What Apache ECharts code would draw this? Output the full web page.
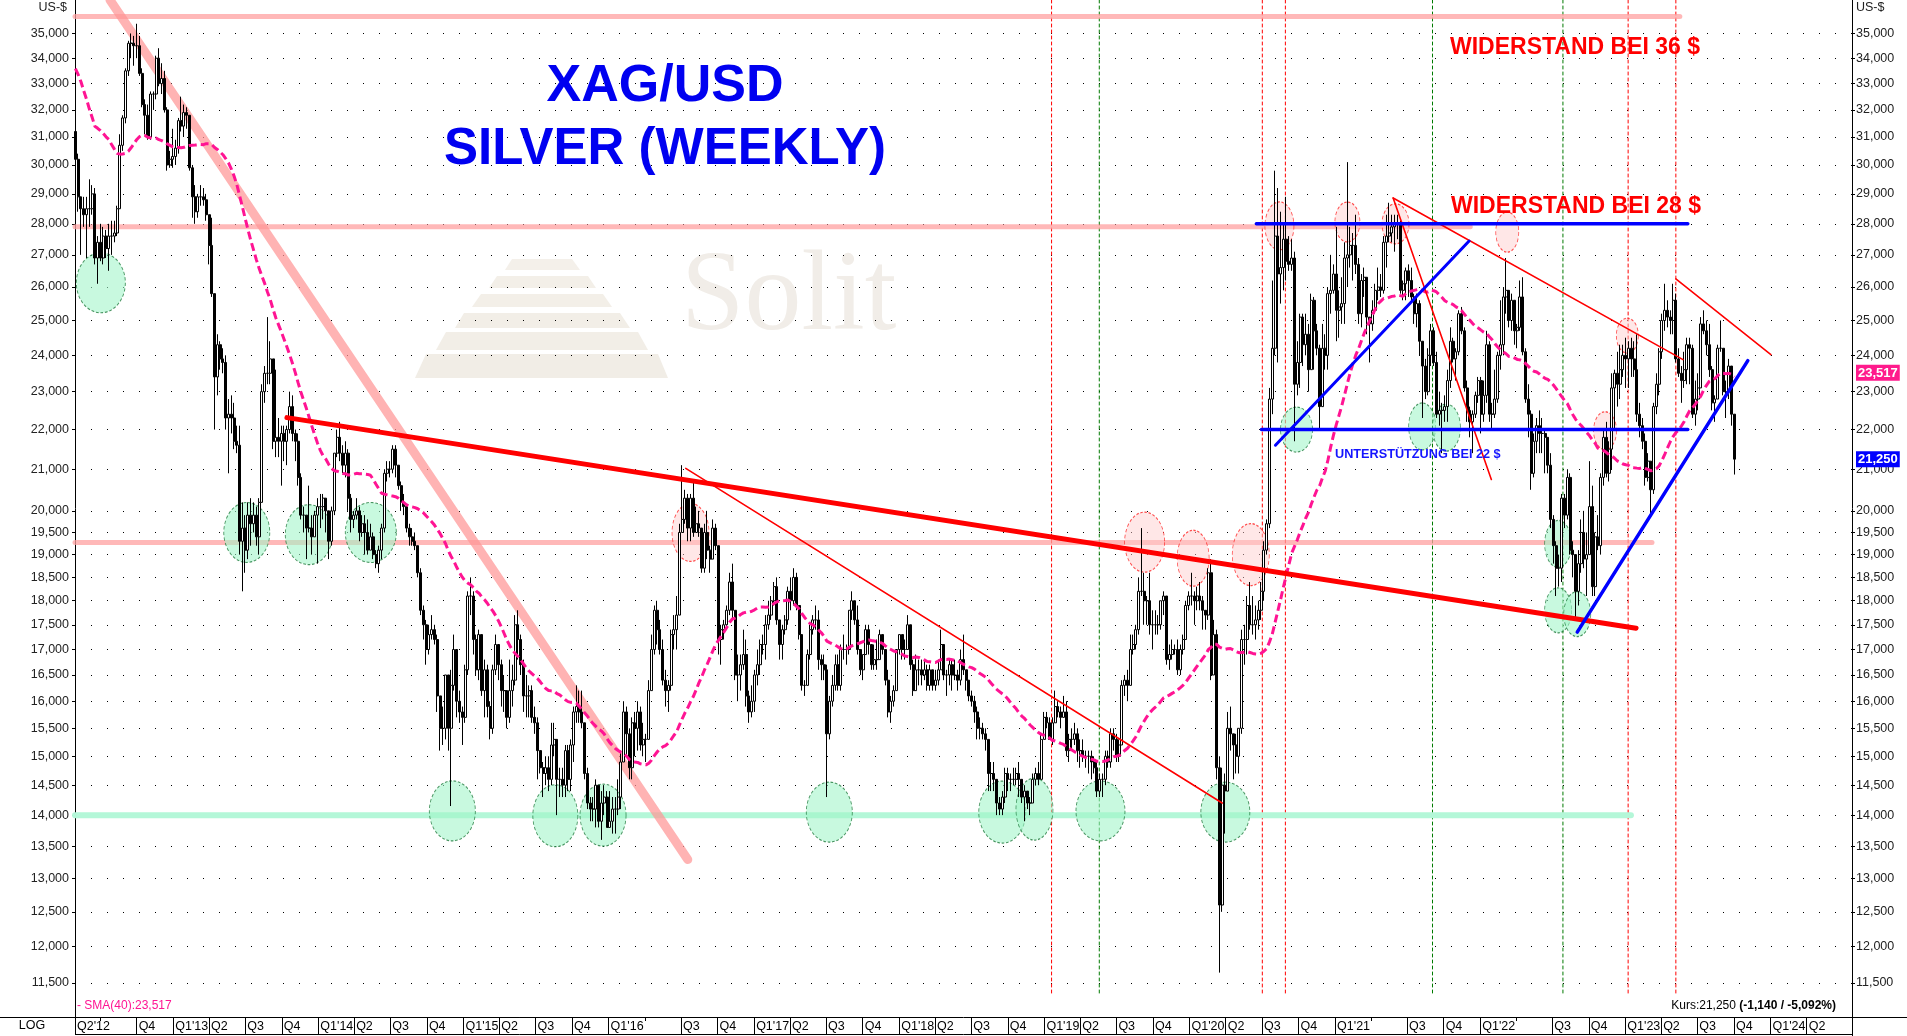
<!DOCTYPE html>
<html><head><meta charset="utf-8">
<script src="https://cdn.jsdelivr.net/npm/echarts@6/dist/echarts.min.js"></script>
<style>html,body{margin:0;padding:0;background:#fff}#c{width:1907px;height:1036px}</style>
</head><body><div id="c"></div>
<script>
// ================= DATA =================
// weekly closes before the visible range (Aug 2011 - Apr 2012), used only to warm up SMA(40)
const preCloses = [38.3,39.6,42.4,41.1,43.1,41.5,40.2,30.5,30.4,31.6,32.1,31.4,35.0,34.3,34.5,31.9,31.4,32.7,31.7,29.5,29.1,28.2,29.1,29.8,32.4,33.5,33.6,33.5,33.3,35.4,34.5,34.1,32.7,32.3,32.5,31.9,31.1,31.8,31.2];

// weekly candles [close, high, low] (US-$), weeks starting on Monday; open = previous close
const w2012 = [[30.2,31.6,30.1],[28.9,30.4,28.4],[28.5,28.9,27.0],[28.3,28.9,27.9],[28.5,28.9,26.9],
 [28.5,29.5,27.9],[29.0,29.3,28.3],[26.9,29.2,26.7],[27.4,27.6,26.1],
 [26.9,28.0,26.8],[27.6,27.9,26.7],[27.2,27.8,26.9],[27.6,28.0,26.5],[27.6,28.1,27.0],
 [27.7,28.1,27.4],[28.5,28.6,27.6],[30.7,31.1,28.5],[31.7,31.8,30.5],
 [33.5,33.6,31.5],[34.6,34.7,33.3],[34.6,35.0,34.0],[34.5,34.9,33.7],
 [34.5,35.4,34.0],[33.4,34.9,33.3],[32.2,33.6,32.1],[31.8,32.4,31.1],[31.0,32.2,30.9],
 [32.6,32.7,30.9],[32.6,32.7,32.0],[34.0,34.1,32.4],[33.0,34.4,32.9],
 [33.2,33.8,32.6],[32.0,33.5,31.9],[30.0,32.1,29.8],[30.2,30.5,29.9],[30.3,31.3,29.9]];
const w2013 = [[30.6,30.9,30.0],[31.6,31.7,30.4],[31.4,32.5,31.2],[31.9,32.2,31.0],
 [31.8,32.1,31.3],[29.9,31.6,29.8],[28.9,30.0,28.2],[28.4,29.3,28.0],
 [28.9,29.0,28.2],[28.9,29.3,28.6],[28.8,29.2,28.6],[28.3,29.0,28.1],
 [27.3,28.2,26.7],[25.8,28.2,25.7],[23.4,25.8,22.0],[24.3,24.6,22.9],[23.9,24.4,23.6],
 [23.8,24.2,23.5],[22.3,24.0,22.0],[22.4,22.8,20.9],[22.3,22.9,21.9],
 [21.7,22.7,21.5],[21.6,22.1,21.4],[19.3,22.1,19.0],[19.6,20.2,18.2],
 [19.1,19.9,18.6],[19.9,20.2,18.9],[19.7,20.3,19.2],[19.9,20.2,19.5],[19.4,20.1,19.2],
 [20.2,20.3,19.0],[23.0,23.2,20.2],[23.5,23.7,22.7],[23.5,25.1,23.2],
 [23.9,24.4,23.2],[21.7,23.9,21.5],[21.8,23.6,21.3],[21.7,22.3,21.3],[21.9,22.1,20.6],
 [21.7,22.1,21.2],[22.0,22.1,21.1],[22.6,23.0,21.9],[21.9,22.9,21.7],
 [21.7,22.0,21.2],[20.8,21.9,20.6],[19.9,20.9,19.8],[19.9,20.1,19.5],
 [19.6,19.9,18.9],[19.6,20.6,19.5],[19.4,19.9,19.0],[19.9,20.0,19.4],[20.1,20.3,18.8]];
const w2014 = [[20.1,20.4,19.6],[20.3,20.4,19.8],[20.0,20.3,19.5],[19.3,20.0,18.9],
 [20.0,20.1,19.2],[21.4,21.4,19.9],[21.8,22.0,21.3],[21.4,22.2,21.2],
 [21.1,21.6,20.9],[21.4,21.7,20.8],[20.3,21.5,20.0],[19.8,20.4,19.5],[19.9,20.0,19.6],
 [20.0,20.3,19.8],[19.5,20.1,19.3],[19.7,19.9,19.4],[19.5,19.9,19.0],
 [19.1,19.8,19.0],[19.4,19.7,19.1],[19.0,19.5,18.9],[18.8,19.1,18.7],
 [19.1,19.2,18.6],[19.6,19.7,18.9],[20.9,21.0,19.5],[21.0,21.2,20.7],[21.0,21.2,20.8],
 [21.5,21.6,20.9],[21.1,21.6,20.8],[20.6,21.0,20.5],[20.2,20.7,20.0],
 [20.1,20.4,19.9],[19.6,20.0,19.5],[19.4,19.7,19.2],[19.3,19.6,19.2],
 [19.2,19.5,19.1],[18.6,19.2,18.5],[17.8,18.7,17.7],[17.5,17.9,17.2],[17.0,17.6,16.7],
 [17.3,17.5,16.9],[17.4,17.7,17.2],[17.2,17.5,17.1],[16.1,17.3,15.8],
 [15.5,16.0,15.1],[15.5,15.9,15.2],[16.5,16.5,15.3],[15.5,16.2,15.1],
 [16.3,16.6,14.15],[17.0,17.3,16.2],[16.0,17.0,15.7],[15.8,16.2,15.6],[15.7,15.9,15.2]];
const w2015 = [[16.6,16.7,15.6],[18.1,18.2,16.5],[18.1,18.5,17.7],[17.2,18.2,16.9],
 [16.6,17.3,16.5],[17.3,17.4,16.4],[16.2,17.3,16.1],[16.6,16.8,15.7],
 [15.9,16.7,15.7],[15.5,16.0,15.3],[16.6,16.7,15.4],[17.1,17.3,16.5],[16.7,17.1,16.4],
 [16.2,16.8,15.9],[16.2,16.5,15.8],[15.7,16.0,15.5],[16.2,16.8,15.6],
 [16.4,16.7,15.9],[17.5,17.7,16.3],[17.2,17.8,16.8],[16.7,17.3,16.5],
 [16.1,16.8,15.8],[16.1,16.5,15.7],[16.2,16.3,15.7],[15.7,16.3,15.6],[15.6,15.9,15.4],
 [15.1,15.7,14.6],[14.8,15.1,14.7],[14.7,14.9,14.3],[14.8,15.0,14.5],
 [14.6,15.0,14.4],[15.2,15.6,14.5],[15.3,15.6,15.0],[14.6,15.3,14.0],[14.6,14.8,14.3],
 [14.5,14.8,14.3],[15.1,15.2,14.3],[14.6,15.2,14.4],[15.2,15.3,14.4],
 [15.8,15.9,14.9],[15.9,16.3,15.6],[15.8,16.2,15.6],[15.6,16.2,15.5],
 [14.7,15.5,14.6],[14.2,14.8,14.1],[14.1,14.3,13.9],[14.1,14.3,13.9],[14.5,14.6,13.8],
 [13.9,14.3,13.8],[14.2,14.4,13.6],[14.3,14.5,14.0],[13.8,14.4,13.8]];
const w2016 = [[13.9,14.4,13.8],[14.1,14.3,13.7],[14.1,14.3,13.7],[14.3,14.6,14.0],
 [14.9,15.1,14.1],[15.8,16.0,15.0],[15.4,15.9,15.0],[14.8,15.5,14.6],[15.6,15.7,14.6],
 [15.5,15.8,15.0],[15.8,16.0,15.1],[15.2,15.9,15.1],[15.3,15.6,15.0],
 [15.3,15.4,14.9],[16.2,16.4,15.3],[17.0,17.3,16.3],[17.8,17.9,16.9],
 [17.4,18.0,17.1],[17.0,17.6,16.9],[16.4,17.2,16.3],[16.2,16.6,15.9],[16.3,16.4,15.8],
 [17.3,17.4,16.2],[17.4,17.7,17.0],[17.7,18.1,17.0],[19.5,19.7,17.7],
 [19.8,21.1,19.5],[20.3,20.5,19.7],[19.6,20.4,19.3],[20.3,20.4,19.3],
 [19.5,20.7,19.4],[19.7,20.1,19.5],[19.6,20.0,19.4],[18.7,19.5,18.6],[19.5,19.7,18.6],
 [19.1,20.0,18.9],[18.9,19.2,18.6],[19.6,19.8,18.9],[19.2,19.7,19.1],
 [17.2,19.2,16.9],[17.4,17.5,16.7],[17.5,17.6,17.2],[17.8,17.9,17.4],[18.4,18.6,17.7],
 [17.8,18.8,17.6],[16.5,17.4,16.4],[16.5,16.9,16.0],[16.7,16.9,16.2],
 [16.9,17.4,16.6],[16.1,17.2,15.9],[15.8,16.2,15.6],[16.0,16.3,15.7]];
const w2017 = [[16.5,16.6,15.8],[16.7,17.0,16.3],[17.1,17.2,16.5],[17.1,17.3,16.9],[17.5,17.7,16.8],
 [17.7,18.0,17.4],[18.0,18.1,17.6],[18.3,18.4,17.9],[17.6,18.5,17.5],
 [17.1,17.6,16.8],[17.4,17.5,16.8],[17.6,17.7,17.3],[18.2,18.3,17.5],
 [18.0,18.5,17.8],[18.5,18.7,17.9],[17.9,18.6,17.8],[17.3,17.9,17.2],
 [16.3,17.3,16.2],[16.3,16.4,16.1],[16.9,17.0,16.3],[17.4,17.5,16.8],[17.6,17.7,17.3],
 [17.6,17.9,17.4],[16.8,17.8,16.6],[16.7,16.9,16.4],[16.6,16.9,16.4],
 [15.4,16.7,14.3],[16.0,16.1,15.3],[16.3,16.5,15.9],[16.7,16.9,16.2],[16.3,16.9,16.2],
 [17.0,17.1,16.2],[17.0,17.3,16.8],[17.0,17.1,16.7],[17.8,17.8,16.9],
 [18.0,18.2,17.6],[17.6,18.0,17.5],[17.0,17.9,16.9],[16.6,17.0,16.5],
 [16.9,16.9,16.4],[17.4,17.5,16.9],[17.1,17.5,16.9],[16.7,17.1,16.6],[16.8,17.1,16.6],
 [16.8,17.2,16.6],[17.3,17.4,16.8],[17.0,17.2,16.9],[16.4,17.0,16.3],
 [15.8,16.6,15.7],[16.0,16.1,15.6],[16.2,16.3,15.9],[17.0,17.0,16.2]];
const w2018 = [[17.3,17.3,16.9],[17.0,17.3,16.8],[17.0,17.2,16.8],[17.5,17.7,17.0],[16.7,17.5,16.6],
 [16.2,16.8,16.1],[16.6,16.9,16.2],[16.6,16.8,16.3],[16.5,16.8,16.3],
 [16.6,16.8,16.4],[16.3,16.7,16.2],[16.6,16.7,16.2],[16.3,16.6,16.2],
 [16.4,16.6,16.2],[16.6,16.8,16.3],[17.1,17.4,16.6],[16.5,17.1,16.4],[16.5,16.6,16.1],
 [16.7,16.8,16.3],[16.5,16.8,16.2],[16.5,16.8,16.4],[16.4,16.6,16.2],
 [16.8,17.0,16.3],[16.6,17.3,16.5],[16.4,16.6,16.2],[16.1,16.4,16.0],
 [16.0,16.2,15.9],[15.8,16.1,15.6],[15.5,15.9,15.3],[15.5,15.7,15.3],[15.4,15.6,15.3],
 [15.3,15.5,15.1],[14.7,15.2,14.4],[14.7,14.9,14.4],[14.6,14.9,14.4],
 [14.2,14.6,14.0],[14.1,14.3,14.0],[14.3,14.4,14.0],[14.7,14.8,14.2],
 [14.6,14.8,14.4],[14.6,14.7,14.4],[14.6,14.8,14.5],[14.7,14.8,14.5],[14.6,14.9,14.3],
 [14.3,14.6,14.2],[14.4,14.5,13.9],[14.2,14.4,14.1],[14.2,14.3,14.0],
 [14.6,14.7,14.2],[14.7,14.8,14.5],[14.6,14.9,14.5],[15.3,15.4,14.6],[15.7,15.8,15.3]];
const w2019 = [[15.6,15.8,15.5],[15.3,15.7,15.3],[15.6,15.7,15.2],[15.9,16.2,15.6],
 [15.8,16.0,15.7],[15.7,15.9,15.5],[15.8,16.1,15.7],[15.1,16.0,15.0],
 [15.3,15.4,14.9],[15.3,15.5,15.1],[15.4,15.6,15.2],[15.1,15.5,14.9],
 [15.1,15.3,14.8],[15.0,15.3,14.9],[15.0,15.1,14.8],[15.0,15.1,14.7],[14.9,15.1,14.6],
 [14.8,15.0,14.7],[14.4,14.9,14.3],[14.6,14.7,14.3],[14.6,14.7,14.3],
 [15.0,15.1,14.5],[14.9,15.1,14.8],[15.4,15.5,14.8],[15.3,15.5,15.1],
 [15.0,15.4,14.9],[15.2,15.3,14.9],[16.3,16.4,15.2],[16.4,16.5,16.1],[16.3,16.6,16.0],
 [17.0,17.3,16.3],[17.1,17.3,16.9],[17.4,17.5,17.0],[18.2,18.5,17.3],
 [18.2,19.6,18.1],[18.0,18.6,17.5],[18.0,18.1,17.5],[17.5,18.6,17.3],[17.5,17.8,17.0],
 [17.5,17.8,17.3],[17.5,17.7,17.3],[18.0,18.0,17.4],[18.1,18.2,17.7],
 [16.8,18.1,16.7],[16.9,17.1,16.6],[17.0,17.2,16.8],[17.0,17.1,16.9],
 [16.6,17.2,16.5],[17.0,17.1,16.5],[17.2,17.3,16.9],[17.9,18.0,17.2],[18.1,18.2,17.8]];
const w2020 = [[18.1,18.6,17.9],[18.0,18.2,17.5],[18.1,18.3,17.8],[18.0,18.4,17.8],
 [17.8,18.1,17.4],[17.7,17.8,17.4],[18.6,18.7,17.6],[16.5,18.9,16.4],
 [17.3,17.6,16.6],[14.8,17.4,14.6],[12.6,15.0,11.64],[14.5,14.8,12.5],[14.4,14.7,13.7],
 [15.5,15.8,14.5],[15.4,15.9,15.1],[15.2,15.4,14.6],[15.0,15.4,14.7],
 [15.5,15.5,14.7],[17.2,17.4,15.4],[17.2,17.5,16.7],[17.9,18.1,16.9],
 [17.5,18.4,17.4],[17.5,18.1,17.3],[17.6,17.9,17.2],[17.8,18.0,17.4],[18.2,18.4,17.6],
 [19.1,19.3,18.0],[19.7,19.8,19.0],[22.8,23.1,19.6],[24.2,26.2,22.4],
 [27.6,29.8,24.0],[26.4,29.2,23.8],[26.6,28.4,25.5],[27.5,28.0,25.9],[26.8,28.9,26.2],
 [26.7,27.6,26.5],[26.9,27.5,26.5],[23.2,27.1,21.7],[23.8,24.4,22.9],
 [25.1,25.2,23.1],[24.3,25.2,23.7],[24.6,25.2,24.0],[23.6,24.9,23.0],
 [25.6,25.8,23.6],[24.7,25.7,23.6],[24.2,24.9,24.0],[22.6,24.3,22.0],[24.2,24.9,22.6],
 [24.0,24.6,23.6],[25.8,26.0,23.6],[25.9,27.0,25.2],[26.4,26.7,25.8]];
const w2021 = [[25.3,27.9,24.4],[25.4,25.9,24.5],[25.5,26.3,24.9],[26.9,27.4,24.9],
 [27.0,30.1,26.0],[27.3,27.9,26.6],[27.3,27.7,26.2],[26.7,28.3,26.4],
 [25.2,26.9,24.9],[26.2,26.4,24.8],[26.3,26.6,25.7],[25.1,26.3,24.6],[24.9,25.0,23.8],
 [25.3,25.6,24.7],[25.9,26.1,25.2],[26.0,26.6,25.6],[25.9,26.4,25.7],
 [27.4,27.6,25.8],[27.6,28.3,26.6],[27.7,28.7,27.4],[27.9,28.3,27.4],[28.0,28.3,27.1],
 [28.0,28.3,27.5],[25.9,28.1,25.8],[26.1,26.2,25.6],[26.5,26.6,25.6],
 [26.2,26.7,25.7],[25.7,26.6,25.6],[25.2,25.8,24.9],[25.5,25.8,24.8],
 [24.4,25.6,24.0],[23.7,24.0,22.3],[23.0,23.9,22.8],[24.0,24.2,22.9],[24.7,24.9,23.7],
 [23.8,24.8,23.7],[22.4,24.1,22.3],[22.5,23.0,22.1],[22.5,22.7,21.4],
 [22.6,22.9,22.2],[23.3,23.6,22.2],[24.4,24.8,23.1],[23.9,24.5,23.8],
 [24.1,24.2,23.3],[25.2,25.3,24.0],[24.7,25.4,24.6],[23.1,24.8,23.0],[22.5,23.3,22.2],
 [22.2,22.6,21.8],[22.4,22.5,21.4],[22.9,23.0,22.3],[23.3,23.4,22.7]];
const w2022 = [[22.4,23.4,21.9],[22.9,23.3,22.2],[24.3,24.7,22.7],[22.4,24.4,22.2],[22.4,22.7,22.0],
 [22.8,23.6,22.3],[24.0,24.1,22.7],[24.3,25.6,23.6],[25.7,26.0,24.0],
 [25.9,26.9,25.2],[25.0,25.9,24.8],[25.6,25.8,24.7],[24.7,25.3,24.3],
 [24.8,24.9,24.2],[25.7,26.2,24.7],[24.1,26.3,24.0],[22.8,24.2,22.7],
 [22.4,23.2,21.8],[20.9,22.5,20.5],[21.7,21.9,20.8],[22.1,22.3,21.4],[21.9,22.5,21.4],
 [21.9,22.3,21.4],[21.8,22.0,20.9],[21.1,21.8,20.9],[19.8,21.4,19.6],
 [19.2,19.9,18.8],[18.7,19.3,18.1],[18.7,19.0,18.3],[20.3,20.4,18.4],
 [19.9,20.4,19.6],[20.8,21.0,19.8],[19.1,20.9,19.0],[19.0,19.3,18.5],[18.2,18.8,17.6],
 [18.8,19.1,17.9],[19.5,19.8,18.6],[18.9,20.0,18.7],[19.0,19.5,18.1],
 [20.1,21.2,19.0],[18.3,20.6,18.1],[19.4,19.5,18.1],[19.2,19.9,19.1],[20.8,20.9,19.0],
 [21.8,22.0,20.6],[20.9,22.2,20.8],[21.5,21.7,20.7],[23.1,23.5,21.0],
 [23.5,23.6,22.0],[23.2,24.1,22.6],[23.6,24.3,22.8],[24.0,24.3,23.4]];
const w2023 = [[23.9,24.5,23.1],[24.2,24.4,23.1],[23.9,24.5,23.4],[23.6,24.4,23.4],[22.4,24.6,22.2],
 [22.1,22.7,21.8],[21.7,22.3,21.5],[20.8,21.9,20.6],[21.2,21.4,20.7],
 [20.5,21.1,19.9],[22.6,22.7,20.4],[23.2,23.5,22.4],[24.1,24.2,22.9],
 [25.0,25.2,23.9],[25.3,26.1,24.7],[25.1,25.6,24.8],[25.0,25.3,24.6],
 [25.6,26.1,24.6],[23.9,25.8,23.8],[23.5,24.2,23.4],[23.3,23.7,22.7],[23.6,24.1,23.1],
 [24.3,24.5,23.2],[24.2,24.5,23.2],[22.4,24.3,22.3],[22.8,23.3,22.1],
 [23.1,23.5,22.5],[24.9,25.1,23.1],[24.7,25.3,24.6],[24.3,25.0,24.0],[23.6,24.9,23.4],
 [22.7,23.7,22.5],[22.8,22.9,22.2],[24.2,24.3,22.9],[24.2,25.0,24.1],
 [23.0,24.2,22.9],[23.0,23.3,22.3],[23.7,23.9,22.8],[22.4,23.7,22.1],
 [21.25,22.4,20.87]];
const yearStarts = ['2012-04-30','2013-01-07','2014-01-06','2015-01-05','2016-01-04','2017-01-02','2018-01-01','2019-01-07','2020-01-06','2021-01-04','2022-01-03','2023-01-02'];
const yearRows = [w2012,w2013,w2014,w2015,w2016,w2017,w2018,w2019,w2020,w2021,w2022,w2023];

// axis ticks (US-$)
const yTicks = [11.5,12,12.5,13,13.5,14,14.5,15,15.5,16,16.5,17,17.5,18,18.5,19,19.5,20,21,22,23,24,25,26,27,28,29,30,31,32,33,34,35];
const quarterDates = ['2012-04-29','2012-10-01','2013-01-01','2013-04-01','2013-07-01','2013-10-01','2014-01-01','2014-04-01','2014-07-01','2014-10-01','2015-01-01','2015-04-01','2015-07-01','2015-10-01','2016-01-01','2016-07-01','2016-10-01','2017-01-01','2017-04-01','2017-07-01','2017-10-01','2018-01-01','2018-04-01','2018-07-01','2018-10-01','2019-01-01','2019-04-01','2019-07-01','2019-10-01','2020-01-01','2020-04-01','2020-07-01','2020-10-01','2021-01-01','2021-07-01','2021-10-01','2022-01-01','2022-07-01','2022-10-01','2023-01-01','2023-04-01','2023-07-01','2023-10-01','2024-01-01','2024-04-01'];
const quarterLabels = ["Q2'12","Q4","Q1'13","Q2","Q3","Q4","Q1'14","Q2","Q3","Q4","Q1'15","Q2","Q3","Q4","Q1'16","Q3","Q4","Q1'17","Q2","Q3","Q4","Q1'18","Q2","Q3","Q4","Q1'19","Q2","Q3","Q4","Q1'20","Q2","Q3","Q4","Q1'21","Q3","Q4","Q1'22","Q3","Q4","Q1'23","Q2","Q3","Q4","Q1'24","Q2"];
const shortTickDates = ['2012-07-01','2016-04-01','2021-04-01','2022-04-01'];

// annotations (date, price in US-$)
const pink36 = [['2012-04-29',35.7],['2023-05-18',35.7]];
const pink28 = [['2012-04-29',27.9],['2021-12-07',27.9]];
const pink1925 = [['2012-04-29',19.27],['2023-03-09',19.27]];
const green14 = [['2012-04-29',14.0],['2023-01-15',14.0]];
const pinkDiag = [['2012-07-26',36.4],['2016-07-18',13.29]];
const redThick = [['2013-10-14',22.31],['2023-01-28',17.43]];
const redThinA = [['2016-07-13',21.02],['2020-03-23',14.2]];
const redThinB = [['2021-05-27',28.86],['2023-05-26',23.88]];
const redThinC = [['2023-05-08',26.25],['2024-01-02',24.02]];
const redThinD = [['2021-05-27',28.86],['2022-01-29',20.75]];
const blueTop = [['2020-06-17',28.0],['2023-06-07',28.0]];
const blueBottom = [['2020-06-30',22.0],['2023-06-07',22.0]];
const blueRise1 = [['2020-08-04',21.6],['2021-12-04',27.44]];
const blueRise2 = [['2022-09-02',17.35],['2023-11-05',23.85]];
const vRedDates = ['2019-01-19','2020-07-02','2020-08-29','2023-01-08','2023-05-08'];
const vGreenDates = ['2019-05-19','2021-09-03','2022-07-28'];
const greenMarks = [['2012-07-03',26.13],['2013-07-05',19.5],['2013-12-08',19.45],['2014-05-13',19.5],
 ['2014-12-04',14.07],['2015-08-20',13.99],['2015-12-18',14.0],['2017-07-09',14.05],
 ['2018-09-17',14.05],['2018-12-07',14.1],['2019-05-22',14.07],['2020-03-31',14.05],
 ['2020-09-26',22.0],['2021-08-08',22.08],['2021-10-08',22.05],
 ['2022-07-16',19.24],['2022-07-16',17.8],['2022-09-02',17.72]];
const greenSizes = [[49,60],[46,60],[47,60],[51,60],[46,60],[45,62],[46,62],[46,60],[47,62],[37,62],[49,60],[49,60],[32,45],[27,47],[28,47],[27,47],[27,45],[27,45]];
const pinkMarks = [['2016-07-25',19.5],['2019-09-10',19.28],['2020-01-10',18.92],['2020-06-03',19.0],
 ['2020-08-14',27.93],['2021-02-01',28.06],['2021-06-02',28.0],['2022-03-10',27.73],
 ['2023-01-06',24.56],['2022-11-11',21.97]];
const pinkSizes = [[37,58],[40,60],[32,56],[37,62],[29,48],[25,40],[27,40],[23,40],[22,35],[23,38]];
const smaLast = 23.517, lastPrice = 21.25;

// ================= BUILD =================
const T = s => Date.parse(s + 'T00:00:00Z');
const DAY = 864e5;
const candles = [], closes = [];
let prev = preCloses[preCloses.length - 1];
yearRows.forEach((rows, yi) => {
  const t0 = T(yearStarts[yi]);
  rows.forEach((r, i) => {
    const [c, h, l] = r, o = prev;
    candles.push([t0 + i * 7 * DAY, o, c, Math.min(l, o, c), Math.max(h, o, c)]);
    closes.push(c); prev = c;
  });
});
const allC = preCloses.concat(closes), P = preCloses.length;
const sma = closes.map((c, i) => {
  let s = 0; for (let k = i + P - 39; k <= i + P; k++) s += allC[k];
  return [candles[i][0], s / 40];
});
const xMin = T('2012-04-29'), xMax = T('2024-07-24');
const yMin = 11.05, yMax = 36.4;
const fmt = v => v.toFixed(3).replace('.', ',');
const qTicks = quarterDates.map(T);
const qMap = {}; qTicks.forEach((t, i) => qMap[t] = quarterLabels[i]);
const FONT = 'Liberation Sans, Arial, sans-serif';

function seg(pts, color, width, z, type) {
  return { type: 'line', data: pts.map(p => [T(p[0]), p[1]]), symbol: 'none', silent: true, z: z,
    lineStyle: { color: color, width: width, type: type || 'solid', cap: 'round' }, animation: false };
}
const series = [];
vRedDates.forEach(d => series.push(seg([[d, yMax], [d, 11.33]], '#ff0000', 1, 1, [3, 3])));
vGreenDates.forEach(d => series.push(seg([[d, yMax], [d, 11.33]], '#007a00', 1, 1, [3, 3])));
series.push(seg(pink36, 'rgba(255,160,160,0.75)', 5, 2));
series.push(seg(pink28, 'rgba(255,160,160,0.75)', 5, 2));
series.push(seg(pink1925, 'rgba(255,160,160,0.75)', 5, 2));
series.push(seg(green14, '#b4f7d8', 6, 2));
series.push(seg(pinkDiag, 'rgba(255,150,150,0.72)', 9, 2));
series.push({ type: 'scatter', z: 2, silent: true, symbol: 'circle',
  data: greenMarks.map((m, i) => ({ value: [T(m[0]), m[1]], symbolSize: greenSizes[i] })),
  itemStyle: { color: 'rgba(160,245,200,0.72)', borderColor: '#1f7a3c', borderWidth: 1, borderType: [3, 2] } });
series.push({ type: 'scatter', z: 2, silent: true, symbol: 'circle',
  data: pinkMarks.map((m, i) => ({ value: [T(m[0]), m[1]], symbolSize: pinkSizes[i] })),
  itemStyle: { color: 'rgba(255,205,205,0.6)', borderColor: '#ff2020', borderWidth: 1, borderType: [3, 2] } });
series.push({ type: 'candlestick', z: 3, data: candles, encode: { x: 0, y: [1, 2, 3, 4] }, barWidth: 2.5,
  itemStyle: { color: '#ffffff', color0: '#000000', borderColor: '#000000', borderColor0: '#000000', borderWidth: 1 } });
series.push({ type: 'line', z: 5, data: sma, symbol: 'none', silent: true,
  lineStyle: { color: '#ff1493', width: 3, type: [8, 4] } });
series.push(seg(redThick, '#ff0000', 5, 6));
series.push(seg(redThinA, '#ff0000', 1.6, 6));
series.push(seg(redThinB, '#ff0000', 1.6, 6));
series.push(seg(redThinC, '#ff0000', 1.6, 6));
series.push(seg(redThinD, '#ff0000', 1.6, 6));
series.push(seg(blueTop, '#0000ff', 3.5, 6));
series.push(seg(blueBottom, '#0000ff', 3.5, 6));
series.push(seg(blueRise1, '#0000ff', 3, 6));
series.push(seg(blueRise2, '#0000ff', 3.5, 6));

const yBase = {
  type: 'log', logBase: 10, min: yMin, max: yMax, gridIndex: 0,
  axisLine: { show: true, lineStyle: { color: '#000', width: 1 } },
  axisTick: { show: true, customValues: yTicks, length: 3, lineStyle: { color: '#000' } },
  axisLabel: { customValues: yTicks, formatter: fmt, color: '#222', fontSize: 12.5, fontFamily: FONT },
};

const chart = echarts.init(document.getElementById('c'), null, { renderer: 'canvas' });
chart.setOption({
  animation: false,
  backgroundColor: '#ffffff',
  grid: { left: 75, right: 55, top: 0, bottom: 19, containLabel: false, outerBoundsMode: 'none' },
  xAxis: [
    { type: 'value', min: xMin, max: xMax, position: 'bottom', scale: true,
      axisLine: { show: true, onZero: false, lineStyle: { color: '#000', width: 1 } },
      axisTick: { show: true, customValues: qTicks, length: 17, lineStyle: { color: '#000' } },
      axisLabel: { customValues: qTicks, formatter: v => qMap[v] || '', align: 'left', margin: 3,
        padding: [0, 0, 0, 2], color: '#000', fontSize: 12.5, fontFamily: FONT, hideOverlap: false },
      splitLine: { show: false } },
    { type: 'value', min: xMin, max: xMax, position: 'bottom', scale: true,
      axisLine: { show: false }, axisLabel: { show: false }, splitLine: { show: false },
      axisTick: { show: true, customValues: shortTickDates.map(T), length: 4, lineStyle: { color: '#000' } } }
  ],
  yAxis: [
    Object.assign({}, yBase, { position: 'left', axisLabel: Object.assign({}, yBase.axisLabel, { margin: 6 }),
      splitLine: { show: true, lineStyle: { color: '#000', width: 1, type: [1, 15] } } }),
    Object.assign({}, yBase, { position: 'right', axisLabel: Object.assign({}, yBase.axisLabel, { margin: 4 }),
      splitLine: { show: false } }),
    { type: 'log', logBase: 10, min: yMin, max: yMax, position: 'right', gridIndex: 0,
      axisLine: { show: false }, axisTick: { show: false }, splitLine: { show: false },
      axisLabel: { customValues: [smaLast, lastPrice], margin: 4, fontFamily: FONT,
        formatter: v => (Math.abs(v - smaLast) < 0.001 ? '{m|' : '{b|') + fmt(v) + '}',
        rich: {
          m: { backgroundColor: '#ff1a8c', color: '#fff', fontWeight: 'bold', fontSize: 13, padding: [2, 2, 1, 2], fontFamily: FONT },
          b: { backgroundColor: '#0000ff', color: '#fff', fontWeight: 'bold', fontSize: 13, padding: [2, 2, 1, 2], fontFamily: FONT }
        } } }
  ],
  series: series,
  graphic: [
    { type: 'group', silent: true, z: 0, children: [
      { type: 'polygon', shape: { points: [[512,259],[572,259],[580,270],[505,270]] }, style: { fill: '#f4f0ea' } },
      { type: 'polygon', shape: { points: [[497,276],[588,276],[596,288],[489,288]] }, style: { fill: '#f3efe8' } },
      { type: 'polygon', shape: { points: [[481,294],[603,294],[612,307],[472,307]] }, style: { fill: '#f3efe8' } },
      { type: 'polygon', shape: { points: [[464,313],[620,313],[630,328],[455,328]] }, style: { fill: '#f2eee7' } },
      { type: 'polygon', shape: { points: [[446,332],[638,332],[648,350],[436,350]] }, style: { fill: '#f2eee7' } },
      { type: 'polygon', shape: { points: [[426,354],[658,354],[668,378],[415,378]] }, style: { fill: '#f1ede6' } },
      { type: 'text', x: 681, y: 356, style: { text: 'Solit', font: '114px "Liberation Serif", "DejaVu Serif", serif', fill: '#f1ede8', textVerticalAlign: 'bottom' } }
    ]},
    { type: 'text', x: 665, y: 87, z: 10, style: { text: 'XAG/USD', font: 'bold 52px ' + FONT, fill: '#0000f0', textAlign: 'center', textVerticalAlign: 'middle' } },
    { type: 'text', x: 665, y: 150, z: 10, style: { text: 'SILVER (WEEKLY)', font: 'bold 51px ' + FONT, fill: '#0000f0', textAlign: 'center', textVerticalAlign: 'middle' } },
    { type: 'text', x: 1450, y: 48, z: 10, style: { text: 'WIDERSTAND BEI 36 $', font: 'bold 23px ' + FONT, fill: '#ff0000', textVerticalAlign: 'middle' } },
    { type: 'text', x: 1451, y: 207, z: 10, style: { text: 'WIDERSTAND BEI 28 $', font: 'bold 23px ' + FONT, fill: '#ff0000', textVerticalAlign: 'middle' } },
    { type: 'text', x: 1335, y: 454, z: 10, style: { text: 'UNTERSTÜTZUNG BEI 22 $', font: 'bold 12.7px ' + FONT, fill: '#1414ff', textVerticalAlign: 'middle' } },
    { type: 'text', x: 67, y: 8, z: 10, style: { text: 'US-$', font: '12.5px ' + FONT, fill: '#222', textAlign: 'right', textVerticalAlign: 'middle' } },
    { type: 'text', x: 1856, y: 8, z: 10, style: { text: 'US-$', font: '12.5px ' + FONT, fill: '#222', textVerticalAlign: 'middle' } },
    { type: 'text', x: 32, y: 1026, z: 10, style: { text: 'LOG', font: '12.5px ' + FONT, fill: '#000', textAlign: 'center', textVerticalAlign: 'middle' } },
    { type: 'text', x: 77, y: 1006, z: 10, style: { text: '- SMA(40):' + fmt(smaLast), font: '12px ' + FONT, fill: '#ff1493', textVerticalAlign: 'middle' } },
    { type: 'text', x: 1836, y: 1006, z: 10, style: { text: '{n|Kurs:' + fmt(lastPrice) + ' }{b|(-1,140 / -5,092%)}', textAlign: 'right', textVerticalAlign: 'middle',
      rich: { n: { font: '12px ' + FONT, fill: '#000' }, b: { font: 'bold 12px ' + FONT, fill: '#000' } } } },
    { type: 'line', z: 10, shape: { x1: 0, y1: 1017.5, x2: 75, y2: 1017.5 }, style: { stroke: '#000', lineWidth: 1 } },
    { type: 'line', z: 10, shape: { x1: 1852, y1: 1017.5, x2: 1907, y2: 1017.5 }, style: { stroke: '#000', lineWidth: 1 } },
    { type: 'line', z: 10, shape: { x1: 75, y1: 1034.5, x2: 1852, y2: 1034.5 }, style: { stroke: '#000', lineWidth: 1 } },
    { type: 'line', z: 10, shape: { x1: 1852.5, y1: 1017, x2: 1852.5, y2: 1036 }, style: { stroke: '#000', lineWidth: 1 } }
  ]
});
</script></body></html>
